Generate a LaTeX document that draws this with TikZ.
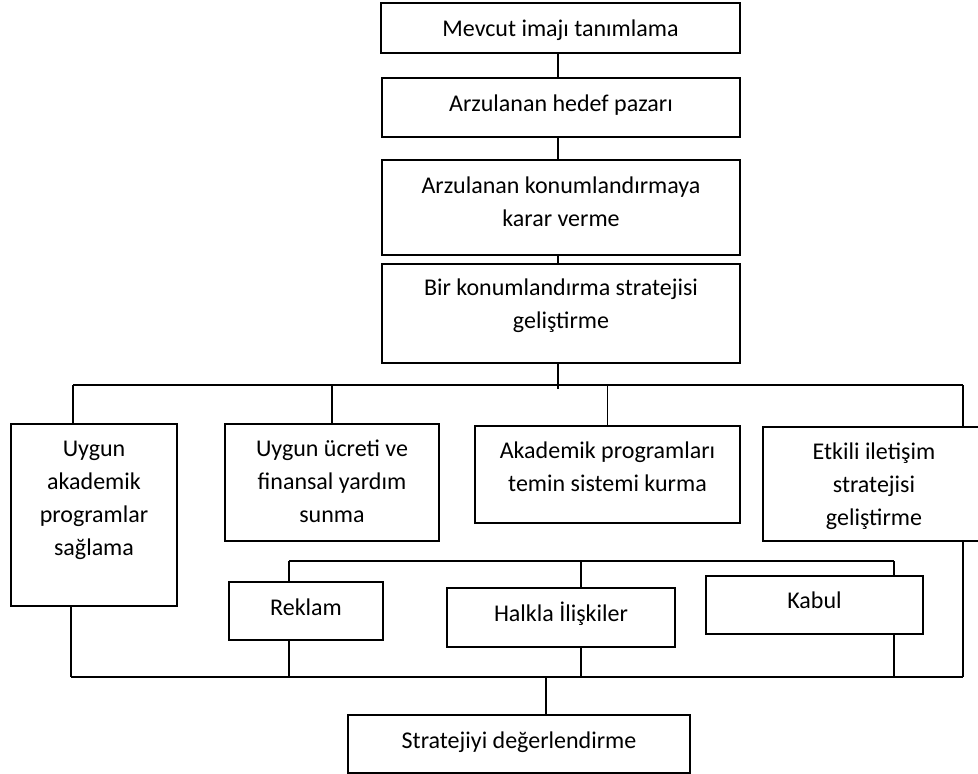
\documentclass[tikz,border=0pt]{standalone}
\usepackage{fontspec}
\setmainfont{Carlito}
\usetikzlibrary{positioning}

\tikzset{
  kutu/.style={draw, line width=2pt, inner sep=0pt},
  kutuyazi/.style={align=center, inner sep=0pt, font=\fontsize{24}{33}\selectfont},
  hat/.style={line width=1.8pt}
}

\begin{document}
\begin{tikzpicture}[x=1pt,y=-1pt]
\clip (0,0) rectangle (978,774);

% ust zincir
\node[kutu, minimum width=359, minimum height=50] (imaj) at (560.5,28) {};
\node[kutuyazi, below=11pt of imaj.north] (imajy) {\strut Mevcut imajı tanımlama};

\node[kutu, minimum width=358, minimum height=59] (hedef) at (561,107.5) {};
\node[kutuyazi, below=11pt of hedef.north] (hedefy) {\strut Arzulanan hedef pazarı};

\node[kutu, minimum width=358, minimum height=95] (karar) at (561,207.5) {};
\node[kutuyazi, below=11pt of karar.north] (karary) {\strut Arzulanan konumlandırmaya\\karar verme};

\node[kutu, minimum width=358, minimum height=99] (strateji) at (561,313.5) {};
\node[kutuyazi, below=9pt of strateji.north] (stratejiy) {\strut Bir konumlandırma stratejisi\\geliştirme};

% dort kol
\node[kutu, minimum width=166, minimum height=182] (akademik) at (94,515) {};
\node[kutuyazi, below=10pt of akademik.north] (akademiky) {\strut Uygun\\akademik\\programlar\\sağlama};

\node[kutu, minimum width=214, minimum height=117] (ucret) at (332,482.5) {};
\node[kutuyazi, below=10pt of ucret.north] (ucrety) {\strut Uygun ücreti ve\\finansal yardım\\sunma};

\node[kutu, minimum width=265, minimum height=97] (temin) at (607.5,474.5) {};
\node[kutuyazi, below=10pt of temin.north] (teminy) {\strut Akademik programları\\temin sistemi kurma};

\node[kutu, minimum width=222, minimum height=114] (iletisim) at (874,484) {};
\node[kutuyazi, below=10pt of iletisim.north] (iletisimy) {\strut Etkili iletişim\\stratejisi\\geliştirme};

% iletisim alt kutulari
\node[kutu, minimum width=154, minimum height=58] (reklam) at (306,611) {};
\node[kutuyazi, below=11pt of reklam.north] (reklamy) {\strut Reklam};

\node[kutu, minimum width=228, minimum height=59] (halkla) at (561,617.5) {};
\node[kutuyazi, below=11pt of halkla.north] (halklay) {\strut Halkla İlişkiler};

\node[kutu, minimum width=217, minimum height=58] (kabul) at (814.5,605) {};
\node[kutuyazi, below=10pt of kabul.north] (kabuly) {\strut Kabul};

\node[kutu, minimum width=342, minimum height=58] (degerlendirme) at (519,744) {};
\node[kutuyazi, below=11pt of degerlendirme.north] (degerlendirmey) {\strut Stratejiyi değerlendirme};

% baglantilar
\coordinate (omurga) at (558,0);
\draw[hat] (imaj.south -| omurga) -- (hedef.north -| omurga);
\draw[hat] (hedef.south -| omurga) -- (karar.north -| omurga);
\draw[hat] (karar.south -| omurga) -- (strateji.north -| omurga);

\coordinate (anaL) at (73,385);
\coordinate (anaR) at (963,385);
\draw[hat] (anaL) -- (anaR);
\draw[hat] (strateji.south -| omurga) -- ([yshift=-4pt]omurga |- anaL);
\draw[hat] (anaL) -- (anaL |- akademik.north);
\draw[hat] (ucret.north) -- (ucret.north |- anaL);
\draw[hat] (temin.north) -- (temin.north |- anaL);
\draw[hat] (anaR) -- (anaR |- iletisim.north);

\coordinate (altL) at (289,561);
\coordinate (altM) at (581,561);
\coordinate (altR) at (894,561);
\draw[hat] (altL) -- (altR);
\draw[hat] (altL) -- (altL |- reklam.north);
\draw[hat] (altM) -- (altM |- halkla.north);
\draw[hat] (altR) -- (altR |- kabul.north);

\coordinate (sonL) at (71,677);
\coordinate (sonM) at (546,677);
\coordinate (sonR) at (963,677);
\draw[hat] (sonL) -- (sonR);
\draw[hat] (akademik.south -| sonL) -- (sonL);
\draw[hat] (reklam.south -| altL) -- (altL |- sonL);
\draw[hat] (halkla.south -| altM) -- (altM |- sonL);
\draw[hat] (kabul.south -| altR) -- (altR |- sonL);
\draw[hat] (iletisim.south -| sonR) -- (sonR);
\draw[hat] (sonM) -- (sonM |- degerlendirme.north);

\end{tikzpicture}
\end{document}
